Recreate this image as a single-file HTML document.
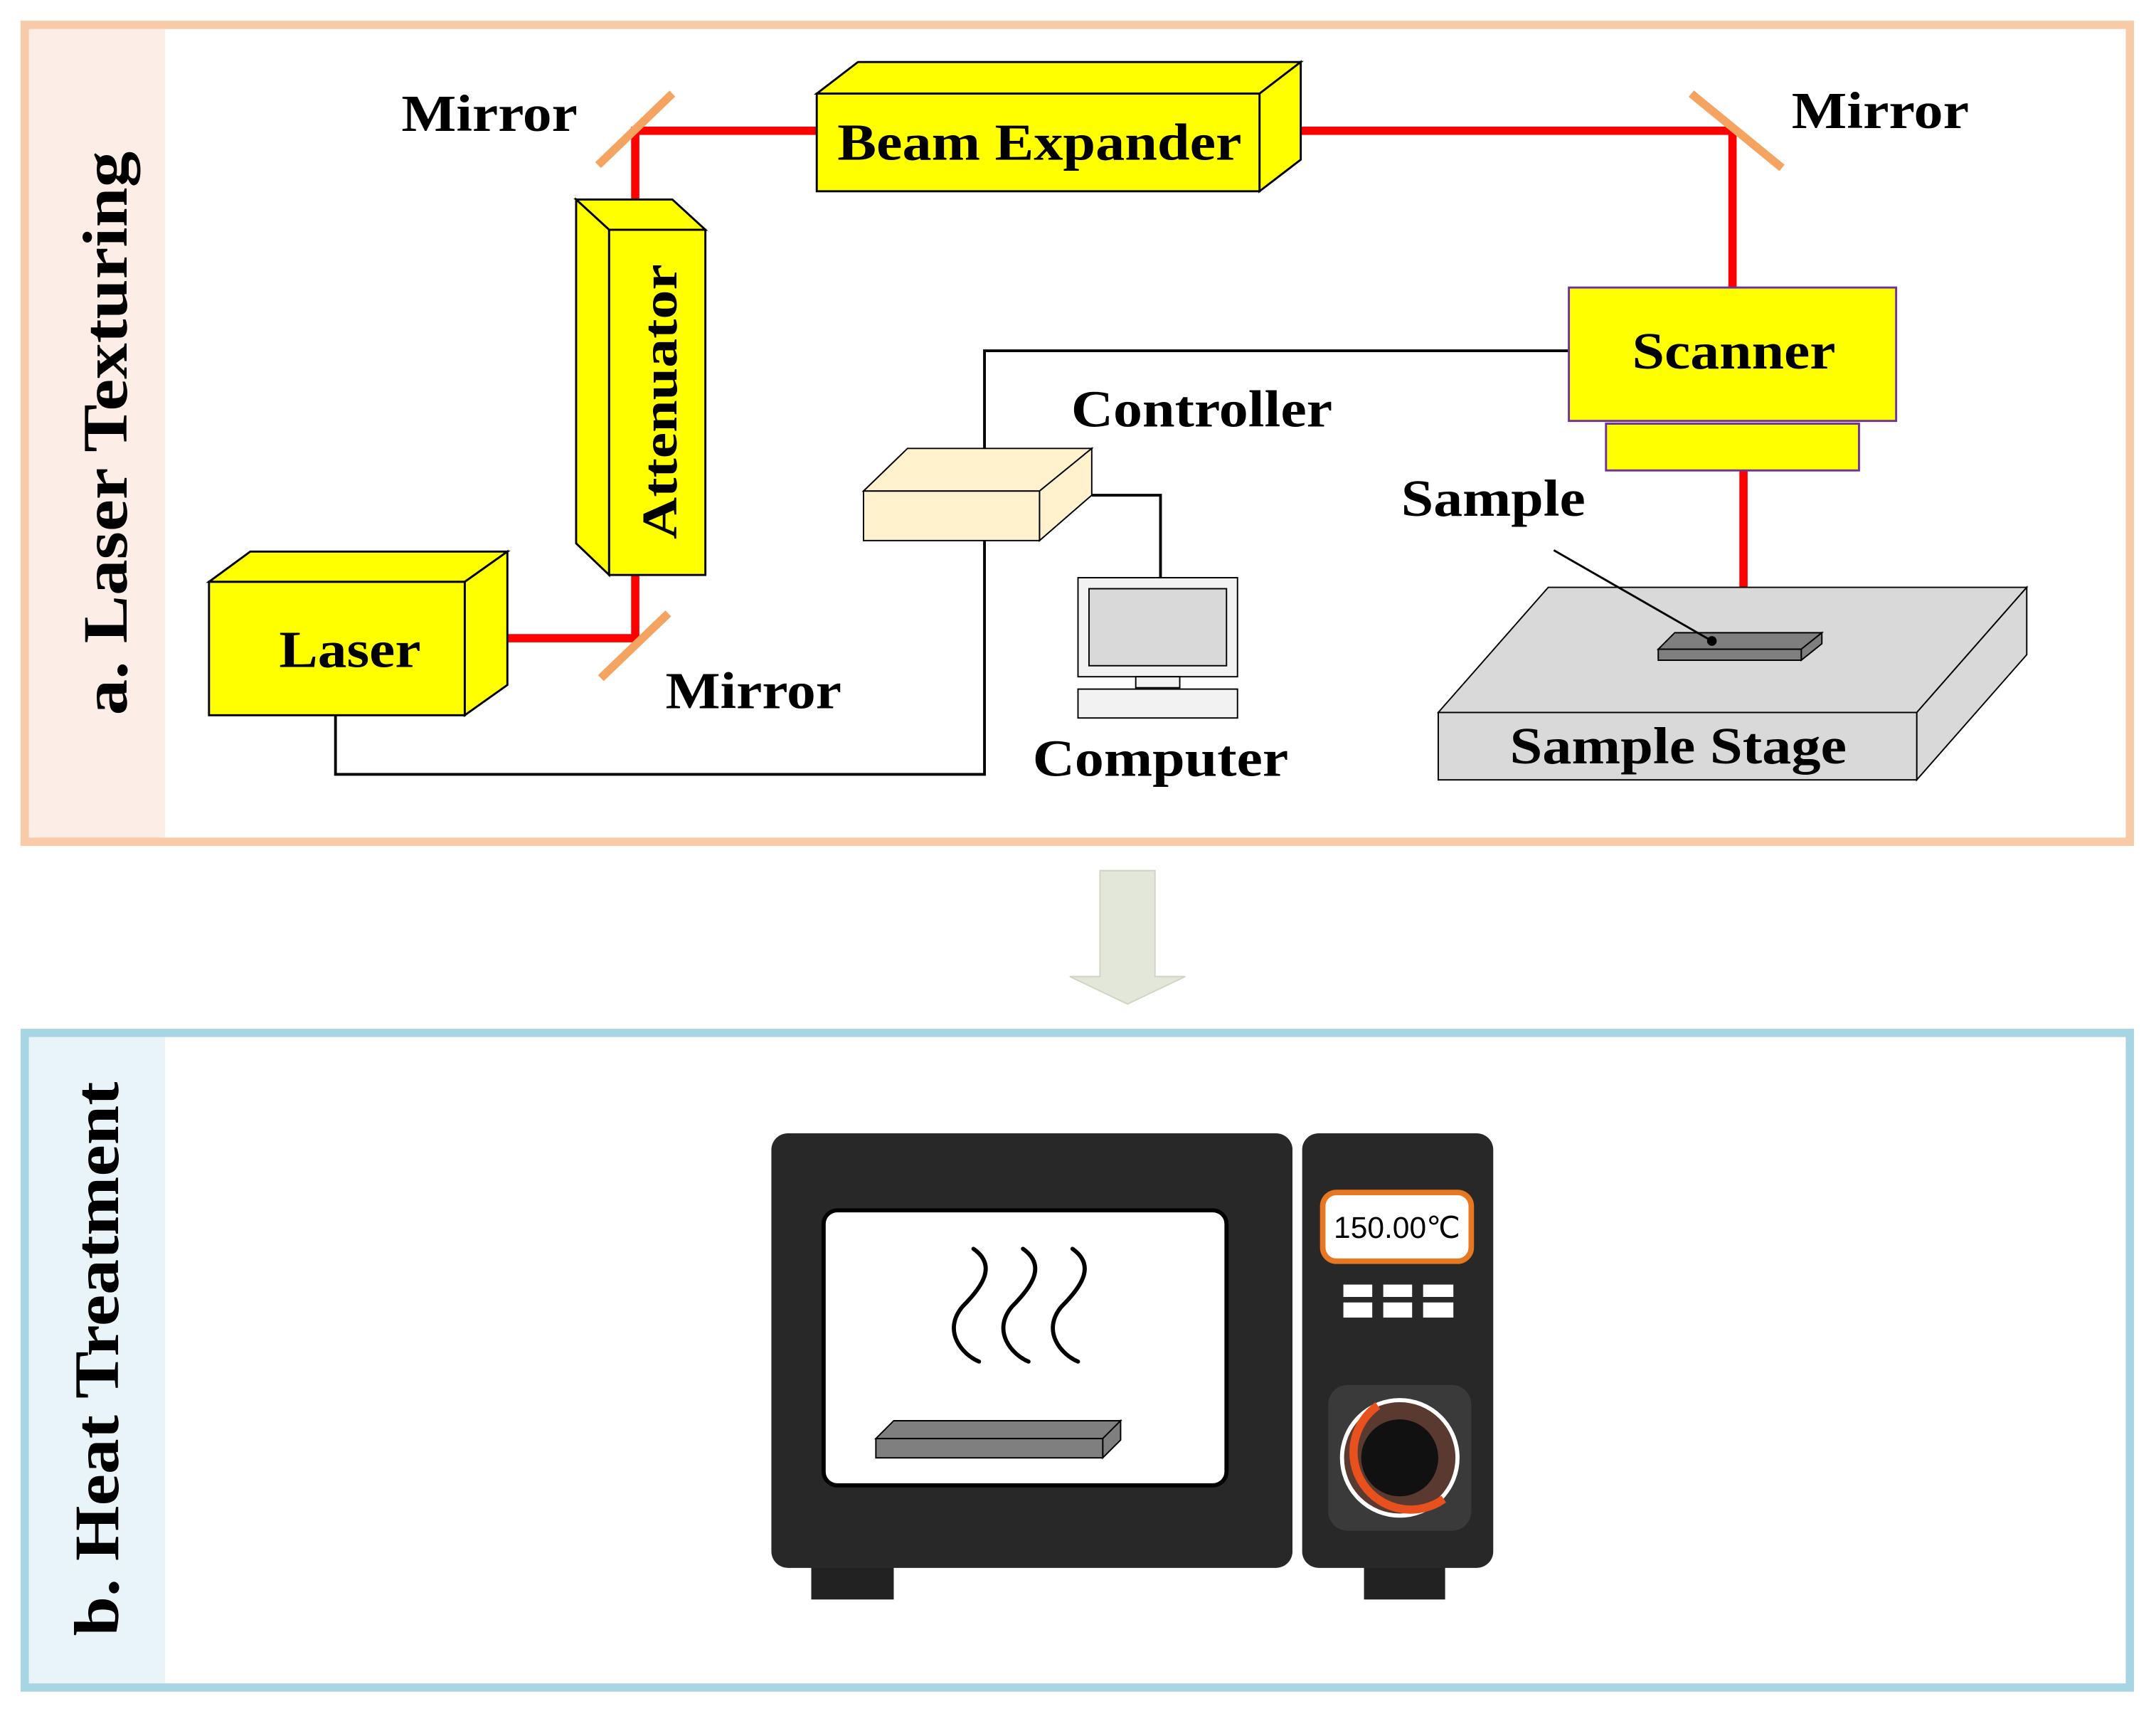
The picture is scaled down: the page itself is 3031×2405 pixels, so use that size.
<!DOCTYPE html>
<html><head><meta charset="utf-8"><style>
html,body{margin:0;padding:0;background:#fff;}
svg{display:block;}
text{font-family:"Liberation Serif",serif;font-weight:bold;fill:#000;}
</style></head><body>
<svg width="3031" height="2405" viewBox="0 0 1568 1244" xmlns="http://www.w3.org/2000/svg">
<!-- Panel a -->
<rect x="20" y="20" width="100" height="590" fill="#fceee6"/>
<rect x="18" y="18" width="1531" height="594" fill="none" stroke="#f9caa8" stroke-width="6"/>
<text transform="translate(92,315) rotate(-90)" text-anchor="middle" font-size="46" textLength="410" lengthAdjust="spacingAndGlyphs">a. Laser Texturing</text>
<!-- Panel b -->
<rect x="20" y="753" width="100" height="472" fill="#e8f4f8"/>
<rect x="18" y="751" width="1531" height="476" fill="none" stroke="#a8d5e3" stroke-width="6"/>
<text transform="translate(86,988) rotate(-90)" text-anchor="middle" font-size="46" textLength="403" lengthAdjust="spacingAndGlyphs">b. Heat Treatment</text>
<!-- Arrow -->
<polygon points="800,633 840,633 840,710 862,710 820,730 778,710 800,710" fill="#e3e7da" stroke="#d0d4c4" stroke-width="1"/>

<!-- wires -->
<g fill="none" stroke="#000" stroke-width="2">
<polyline points="716,340 716,255 1141,255"/>
<polyline points="716,393 716,563 244,563 244,520"/>
<polyline points="794,360 844,360 844,420"/>
</g>
<!-- red beams -->
<g stroke="#ff0000" stroke-width="6" fill="none">
<polyline points="369,464 462,464 462,418"/>
<polyline points="462,167 462,95 594,95"/>
<polyline points="946,95 1260,95 1260,209"/>
<line x1="1268" y1="342" x2="1268" y2="462"/>
</g>
<!-- mirrors -->
<g stroke="#f4a460" stroke-width="6">
<line x1="435" y1="120" x2="489" y2="68"/>
<line x1="437" y1="493" x2="486" y2="446"/>
<line x1="1230" y1="68" x2="1296" y2="122"/>
</g>
<!-- Laser -->
<g fill="#ffff00" stroke="#000" stroke-width="1.5">
<polygon points="152,423 182,401 369,401 338,423"/>
<polygon points="338,423 369,401 369,498 338,520"/>
<rect x="152" y="423" width="186" height="97"/>
</g>
<!-- Attenuator -->
<g fill="#ffff00" stroke="#000" stroke-width="1.5">
<polygon points="419,145 489,145 513,167 443,167"/>
<polygon points="419,145 443,167 443,418 419,395"/>
<rect x="443" y="167" width="70" height="251"/>
</g>
<!-- Beam Expander -->
<g fill="#ffff00" stroke="#000" stroke-width="1.5">
<polygon points="594,68 624,45 946,45 916,68"/>
<polygon points="916,68 946,45 946,116 916,139"/>
<rect x="594" y="68" width="322" height="71"/>
</g>
<!-- Scanner -->
<rect x="1141" y="209" width="238" height="97" fill="#ffff00" stroke="#7030a0" stroke-width="1.5"/>
<rect x="1168" y="308" width="184" height="34" fill="#ffff00" stroke="#7030a0" stroke-width="1.5"/>
<!-- Controller -->
<g fill="#fff2cc" stroke="#000" stroke-width="1">
<polygon points="628,357 660,326 794,326 756,357"/>
<polygon points="756,357 794,326 794,360 756,393"/>
<rect x="628" y="357" width="128" height="36"/>
</g>
<!-- Computer -->
<rect x="784" y="420" width="116" height="72" fill="#f2f2f2" stroke="#000" stroke-width="1"/>
<rect x="792" y="428" width="100" height="56" fill="#d9d9d9" stroke="#000" stroke-width="1"/>
<rect x="826" y="492" width="32" height="8" fill="#f2f2f2" stroke="#000" stroke-width="1"/>
<rect x="784" y="501" width="116" height="21" fill="#f2f2f2" stroke="#000" stroke-width="1"/>
<!-- Sample stage -->
<g fill="#d9d9d9" stroke="#000" stroke-width="1">
<polygon points="1046,518 1126,427 1474,427 1394,518"/>
<polygon points="1394,518 1474,427 1474,476 1394,567"/>
<rect x="1046" y="518" width="348" height="49"/>
</g>
<!-- Sample -->
<g fill="#7f7f7f" stroke="#000" stroke-width="1">
<polygon points="1206,472 1218,460 1325,460 1310,472"/>
<polygon points="1310,472 1325,460 1325,468 1310,480"/>
<rect x="1206" y="472" width="104" height="8"/>
</g>
<line x1="1130" y1="400" x2="1245" y2="466" stroke="#000" stroke-width="1.5"/>
<circle cx="1245" cy="466" r="3.5" fill="#000"/>
<!-- labels -->
<g font-size="38" lengthAdjust="spacingAndGlyphs">
<text x="292" y="95" textLength="128" lengthAdjust="spacingAndGlyphs">Mirror</text>
<text x="1303" y="93" textLength="129" lengthAdjust="spacingAndGlyphs">Mirror</text>
<text x="484" y="515" textLength="128" lengthAdjust="spacingAndGlyphs">Mirror</text>
<text x="779" y="310" textLength="190" lengthAdjust="spacingAndGlyphs">Controller</text>
<text x="1019" y="375" textLength="134" lengthAdjust="spacingAndGlyphs">Sample</text>
<text x="751" y="564" textLength="186" lengthAdjust="spacingAndGlyphs">Computer</text>
<text x="203" y="485" textLength="103" lengthAdjust="spacingAndGlyphs">Laser</text>
<text x="609" y="116" textLength="294" lengthAdjust="spacingAndGlyphs">Beam Expander</text>
<text x="1187" y="268" textLength="148" lengthAdjust="spacingAndGlyphs">Scanner</text>
<text x="1098" y="555" textLength="245" lengthAdjust="spacingAndGlyphs">Sample Stage</text>
<text transform="translate(492,392) rotate(-90)" font-size="36" textLength="200" lengthAdjust="spacingAndGlyphs">Attenuator</text>
</g>

<!-- Oven -->
<rect x="590" y="1136" width="60" height="27" fill="#222"/>
<rect x="992" y="1136" width="59" height="27" fill="#222"/>
<rect x="561" y="824" width="379" height="316" rx="12" fill="#282828"/>
<rect x="947" y="824" width="139" height="316" rx="12" fill="#282828"/>
<rect x="940" y="824" width="7" height="316" fill="#fff"/>
<rect x="599" y="880" width="293" height="200" rx="10" fill="#fff" stroke="#000" stroke-width="3"/>
<g fill="none" stroke="#000" stroke-width="3" stroke-linecap="round">
<path d="M708,908 C725,920 715,935 700,950 C685,968 700,985 712,990"/>
<path d="M744,908 C761,920 751,935 736,950 C721,968 736,985 748,990"/>
<path d="M780,908 C797,920 787,935 772,950 C757,968 772,985 784,990"/>
</g>
<g fill="#7f7f7f" stroke="#000" stroke-width="1">
<polygon points="637,1046 650,1033 815,1033 802,1046"/>
<polygon points="802,1046 815,1033 815,1047 802,1060"/>
<rect x="637" y="1046" width="165" height="14"/>
</g>
<rect x="962" y="867" width="108" height="50" rx="10" fill="#fff" stroke="#e87722" stroke-width="4"/>
<text x="1016" y="900" text-anchor="middle" font-size="22" style="font-family:'Liberation Sans',sans-serif;font-weight:normal">150.00℃</text>
<g fill="#fff">
<rect x="977" y="934" width="21" height="9"/><rect x="977" y="947" width="21" height="11"/>
<rect x="1006" y="934" width="21" height="9"/><rect x="1006" y="947" width="21" height="11"/>
<rect x="1035" y="934" width="22" height="9"/><rect x="1035" y="947" width="22" height="11"/>
</g>
<rect x="966" y="1007" width="104" height="106" rx="14" fill="#3a3a3a"/>
<circle cx="1018" cy="1060" r="42" fill="#5a3a30" stroke="#fff" stroke-width="3"/>
<path d="M1002,1022 A40,40 0 0,0 1050,1090" fill="none" stroke="#e8501e" stroke-width="6"/>
<circle cx="1018" cy="1060" r="28" fill="#111"/>
</svg>
</body></html>
